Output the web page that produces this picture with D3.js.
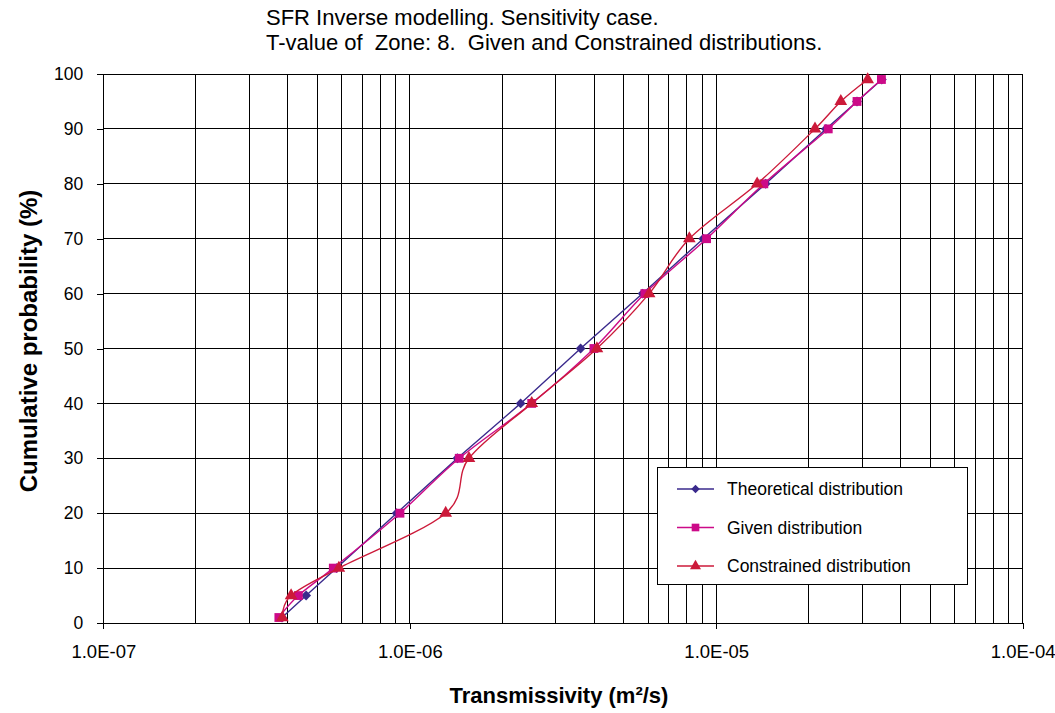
<!DOCTYPE html>
<html>
  <head>
    <meta charset="utf-8">
    <title>SFR Inverse modelling</title>
    <style media="screen">
      body {margin:0; background:#fff}
      text {font-family: "Liberation Sans", Arial, sans-serif; fill:#000; white-space: pre}
    </style>
  </head>
  <body>
    <script src="https://cdn.jsdelivr.net/npm/d3@7"></script>
    <script type="text/javascript">

    // cumulative probability levels (%)
    const probs = [1, 5, 10, 20, 30, 40, 50, 60, 70, 80, 90, 95, 99]

    // transmissivity (m2/s)
    const theoretical = [3.83e-7, 4.59e-7, 5.77e-7, 9.06e-7, 1.43e-6, 2.30e-6, 3.61e-6, 5.75e-6, 9.07e-6, 1.45e-5, 2.28e-5, 2.88e-5, 3.47e-5]
    const given       = [3.74e-7, 4.33e-7, 5.63e-7, 9.29e-7, 1.45e-6, 2.50e-6, 3.99e-6, 5.85e-6, 9.30e-6, 1.43e-5, 2.32e-5, 2.88e-5, 3.46e-5]
    const constrained = [3.84e-7, 4.10e-7, 5.87e-7, 1.31e-6, 1.56e-6, 2.50e-6, 4.08e-6, 6.04e-6, 8.17e-6, 1.36e-5, 2.10e-5, 2.55e-5, 3.12e-5]

    const xTicks = [1e-7, 1e-6, 1e-5, 1e-4]
    const yTicks = [0, 10, 20, 30, 40, 50, 60, 70, 80, 90, 100]

    const titleLines = ['SFR Inverse modelling. Sensitivity case.',
                        'T-value of  Zone: 8.  Given and Constrained distributions.']

    const series = [
      {name: 'Theoretical distribution', values: theoretical, color: '#3a2a8c', symbol: d3.symbolDiamond2, size: 62, curve: d3.curveLinear},
      {name: 'Given distribution', values: given, color: '#cc0a88', symbol: d3.symbolSquare, size: 78, curve: d3.curveCardinal.tension(0)},
      {name: 'Constrained distribution', values: constrained, color: '#cc1a3a', symbol: d3.symbolTriangle, size: 70, curve: d3.curveCardinal.tension(0)}
    ]

    const W = 1055, H = 713
    const pl = 103.3, pr = 1022.7, pt = 74, pb = 623

    const svg = d3.select('body').append('svg')
      .attr('width', W)
      .attr('height', H)

    const x = d3.scaleLog().domain([1e-7, 1e-4]).range([pl, pr])
    const y = d3.scaleLinear().domain([0, 100]).range([pb, pt])

    // grid
    const minor = []
    xTicks.slice(0, -1).forEach(d => { for (let k = 1; k <= 10; k++) minor.push(d * k) })

    const grid = svg.append('g').attr('shape-rendering', 'crispEdges')
    grid.selectAll('.vx').data(minor).join('line')
      .attr('x1', d => x(d)).attr('x2', d => x(d))
      .attr('y1', pt).attr('y2', pb)
      .attr('stroke', '#000').attr('stroke-width', 1)
    grid.selectAll('.hy').data(yTicks).join('line')
      .attr('x1', pl).attr('x2', pr)
      .attr('y1', d => y(d)).attr('y2', d => y(d))
      .attr('stroke', '#000').attr('stroke-width', 1)

    // axes
    const xAxis = d3.axisBottom(x).tickValues(xTicks)
      .tickFormat(d => d.toExponential(1).replace(/e([+-])(\d)$/, 'E$10$2').replace('e', 'E'))
      .tickSize(6).tickPadding(16)
    const yAxis = d3.axisLeft(y).tickValues(yTicks).tickSize(6).tickPadding(14)

    const gx = svg.append('g').attr('transform', `translate(0,${pb})`).call(xAxis)
    const gy = svg.append('g').attr('transform', `translate(${pl},0)`).call(yAxis)
    ;[gx, gy].forEach(g => {
      g.select('.domain').remove()
      g.selectAll('line').attr('stroke', '#000').attr('shape-rendering', 'crispEdges')
      g.selectAll('text').style('font-size', '17.5px').attr('fill', '#000')
        .style('font-family', '"Liberation Sans", Arial, sans-serif')
    })
    gx.selectAll('text').attr('dy', '0.71em').style('font-size', '18.5px')

    // series
    const plot = svg.append('g')
    series.forEach(s => {
      const pts = s.values.map((v, i) => [x(v), y(probs[i])])
      plot.append('path')
        .attr('d', d3.line().curve(s.curve)(pts))
        .attr('fill', 'none')
        .attr('stroke', s.color)
        .attr('stroke-width', 1.4)
      plot.selectAll(null).data(pts).join('path')
        .attr('transform', d => `translate(${d[0]},${d[1]})`)
        .attr('d', d3.symbol(s.symbol, s.size))
        .attr('fill', s.color)
    })

    // title
    svg.append('text')
      .attr('x', 266).attr('y', 25)
      .style('font-size', '22px')
      .selectAll('tspan').data(titleLines).join('tspan')
      .attr('x', 266).attr('dy', (d, i) => i ? 25 : 0)
      .text(d => d)

    // axis titles
    svg.append('text')
      .attr('x', 559).attr('y', 703)
      .attr('text-anchor', 'middle')
      .style('font-size', '22px').style('font-weight', 'bold')
      .text('Transmissivity (m²/s)')

    svg.append('text')
      .attr('transform', `translate(37,${341}) rotate(-90)`)
      .attr('text-anchor', 'middle')
      .style('font-size', '24px').style('font-weight', 'bold')
      .text('Cumulative probability (%)')

    // legend
    const lg = svg.append('g').attr('transform', 'translate(657,467)')
    lg.append('rect')
      .attr('width', 310).attr('height', 117)
      .attr('fill', '#fff').attr('stroke', '#000').attr('stroke-width', 1)
      .attr('shape-rendering', 'crispEdges')
    const row = lg.selectAll('.row').data(series).join('g')
      .attr('transform', (d, i) => `translate(0,${22 + i * 38.5})`)
    row.append('line')
      .attr('x1', 20).attr('x2', 57)
      .attr('stroke', d => d.color).attr('stroke-width', 1.4)
    row.append('path')
      .attr('transform', 'translate(38.5,0)')
      .attr('d', d => d3.symbol(d.symbol, d.size * 0.75)())
      .attr('fill', d => d.color)
    row.append('text')
      .attr('x', 70).attr('dy', '0.35em')
      .style('font-size', '17.5px')
      .text(d => d.name)

    </script>
  </body>
</html>
